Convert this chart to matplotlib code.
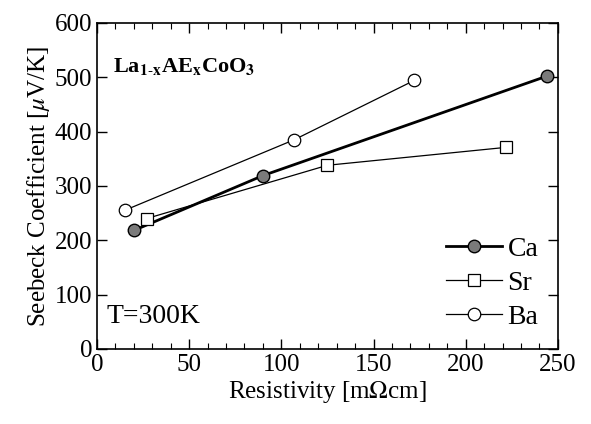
import matplotlib.pyplot as plt
from matplotlib.ticker import MultipleLocator

# resistivity [mOhm cm] and Seebeck [uV/K]
ca_x = [20, 90, 244]
ca_y = [218, 319, 502]
sr_x = [27, 125, 222]
sr_y = [240, 338, 371]
ba_x = [15, 107, 172]
ba_y = [255, 385, 494]

plt.rcParams['font.family'] = ['Liberation Serif', 'DejaVu Serif']
plt.rcParams['mathtext.fontset'] = 'stix'

fig = plt.figure(figsize=(5.91, 4.24), dpi=100)
ax = fig.add_axes([0.164, 0.177, 0.78, 0.769])

ax.plot(ca_x, ca_y, color='black', lw=2.0, marker='o', ms=9,
        mfc='#7a7a7a', mec='black', mew=1.0, label='Ca')
ax.plot(sr_x, sr_y, color='black', lw=0.9, marker='s', ms=9,
        mfc='white', mec='black', mew=0.9, label='Sr')
ax.plot(ba_x, ba_y, color='black', lw=0.9, marker='o', ms=9,
        mfc='white', mec='black', mew=0.9, label='Ba')

ax.set_xlim(0, 250)
ax.set_ylim(0, 600)
ax.xaxis.set_major_locator(MultipleLocator(50))
ax.xaxis.set_minor_locator(MultipleLocator(10))
ax.yaxis.set_major_locator(MultipleLocator(100))
ax.tick_params(which='both', direction='in', top=True, right=True, labelsize=18)
ax.tick_params(which='major', length=7, width=1)
ax.tick_params(which='minor', length=4, width=0.8)
for s in ax.spines.values():
    s.set_linewidth(1.2)

ax.set_xlabel('Resistivity [m$\\Omega$cm]', fontsize=18, labelpad=2)
ax.set_ylabel('Seebeck Coefficient [$\\mu$V/K]', fontsize=18, labelpad=2)

ax.text(0.035, 0.85,
        'La$_{\\mathbf{1}\\text{-}\\mathbf{x}}$AE$_{\\mathbf{x}}$CoO$_{\\mathbf{3}}$',
        transform=ax.transAxes, fontsize=16, fontweight='bold')
ax.text(0.02, 0.08, 'T=300K', transform=ax.transAxes, fontsize=20)

ax.legend(loc='lower right', frameon=False, fontsize=20, handlelength=2.0,
          handletextpad=0.2, labelspacing=0.3, borderaxespad=0.3)

fig.savefig('out.png', dpi=100)
